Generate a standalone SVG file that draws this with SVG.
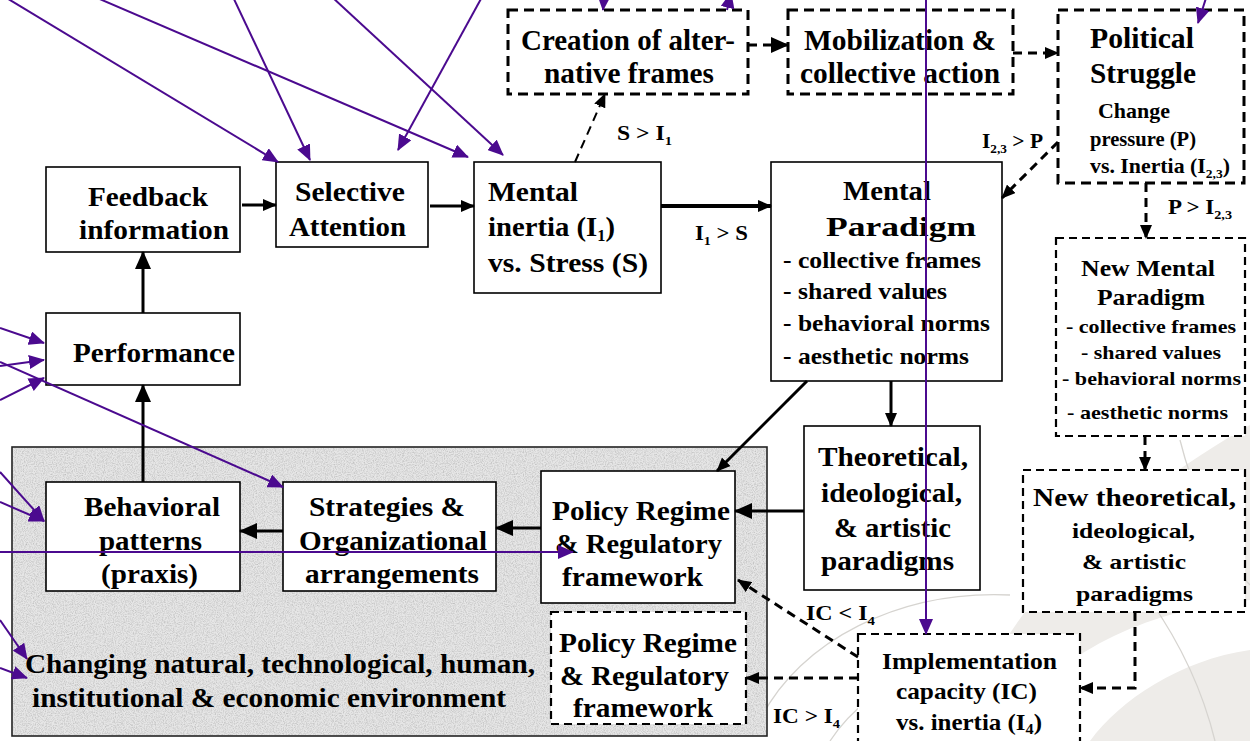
<svg xmlns="http://www.w3.org/2000/svg" width="1250" height="741" viewBox="0 0 1250 741">
<defs>
<style>
text{font-family:"Liberation Serif","Times New Roman",serif;font-weight:bold;fill:#000}
.box{fill:#fff;stroke:#000;stroke-width:1.6}
.dbox{fill:#fff;stroke:#000;stroke-width:3;stroke-dasharray:10 6}
.dboxt{fill:#fff;stroke:#000;stroke-width:2.2;stroke-dasharray:8 5}
.c{fill:none;stroke:#000;stroke-width:3}
.cd{fill:none;stroke:#000;stroke-width:3;stroke-dasharray:9 6}
.p{fill:none;stroke:#4b0a8f;stroke-width:2}
.deco{fill:none;stroke:#d6d4d0;stroke-width:1.3}
</style>
<marker id="ab" viewBox="0 0 14 12" refX="13" refY="6" markerWidth="14" markerHeight="12" markerUnits="userSpaceOnUse" orient="auto"><path d="M0,0 L14,6 L0,12 z" fill="#000"/></marker>
<marker id="abL" viewBox="0 0 18 16" refX="17" refY="8" markerWidth="18" markerHeight="16" markerUnits="userSpaceOnUse" orient="auto"><path d="M0,0 L18,8 L0,16 z" fill="#000"/></marker>
<marker id="ap" viewBox="0 0 16 14" refX="15" refY="7" markerWidth="16" markerHeight="14" markerUnits="userSpaceOnUse" orient="auto"><path d="M0,0 L16,7 L0,14 z" fill="#4b0a8f"/></marker>
<filter id="grain" x="0" y="0" width="100%" height="100%">
<feTurbulence type="fractalNoise" baseFrequency="0.9" numOctaves="3" seed="4" result="n"/>
<feColorMatrix in="n" type="matrix" values="0 0 0 0 0.5  0 0 0 0 0.5  0 0 0 0 0.5  1.8 0 0 0 -0.7"/>
<feComposite in2="SourceGraphic" operator="in"/>
</filter>
</defs>
<rect width="1250" height="741" fill="#fff"/>
<g id="background">
<path d="M960,741 C1000,600 1120,500 1250,425 L1250,741 Z" fill="#eeece9"/>
<path d="M1000,741 C1040,660 1140,610 1250,600 L1250,650 C1180,660 1120,700 1090,741 Z" fill="#fff"/>
<path class="deco" d="M760,720 C800,640 900,590 1010,595"/>
<path class="deco" d="M830,741 C870,680 960,640 1070,650"/>
<path class="deco" d="M1150,600 C1185,650 1205,700 1215,741"/>
<path class="deco" d="M1180,440 C1195,500 1225,560 1250,585"/>
</g>
<g id="environment">
<rect x="12" y="447" width="755" height="289" fill="#e6e6e6" stroke="#222" stroke-width="1.6"/>
<rect x="13" y="448" width="753" height="287" fill="#fff" filter="url(#grain)"/>
<text x="25" y="673" font-size="27" textLength="510" lengthAdjust="spacingAndGlyphs">Changing natural, technological, human,</text>
<text x="32" y="707" font-size="27" textLength="474" lengthAdjust="spacingAndGlyphs">institutional &amp; economic environment</text>
</g>
<g id="creation">
<rect class="dbox" x="508" y="10" width="240" height="84"/>
<text x="521" y="50" font-size="30" textLength="214" lengthAdjust="spacingAndGlyphs">Creation of alter-</text>
<text x="544" y="83" font-size="30" textLength="170" lengthAdjust="spacingAndGlyphs">native frames</text>
</g>
<g id="mobilization">
<rect class="dbox" x="788" y="10" width="225" height="84"/>
<text x="804" y="50" font-size="30" textLength="192" lengthAdjust="spacingAndGlyphs">Mobilization &amp;</text>
<text x="800" y="83" font-size="30" textLength="200" lengthAdjust="spacingAndGlyphs">collective action</text>
</g>
<g id="political">
<rect class="dbox" x="1058" y="10" width="186" height="173"/>
<text x="1090" y="48" font-size="30" textLength="104" lengthAdjust="spacingAndGlyphs">Political</text>
<text x="1090" y="83" font-size="30" textLength="106" lengthAdjust="spacingAndGlyphs">Struggle</text>
<text x="1098" y="118" font-size="21" textLength="72" lengthAdjust="spacingAndGlyphs">Change</text>
<text x="1090" y="146" font-size="21" textLength="106" lengthAdjust="spacingAndGlyphs">pressure (P)</text>
<text x="1090" y="173" font-size="21" textLength="140" lengthAdjust="spacingAndGlyphs">vs. Inertia (I<tspan font-size="13" dy="5">2,3</tspan><tspan dy="-5">)</tspan></text>
</g>
<g id="feedback">
<rect class="box" x="46" y="167" width="194" height="85"/>
<text x="88" y="206" font-size="28" textLength="120" lengthAdjust="spacingAndGlyphs">Feedback</text>
<text x="79" y="239" font-size="28" textLength="150" lengthAdjust="spacingAndGlyphs">information</text>
</g>
<g id="selective">
<rect class="box" x="276" y="162" width="152" height="85"/>
<text x="295" y="201" font-size="28" textLength="110" lengthAdjust="spacingAndGlyphs">Selective</text>
<text x="289" y="236" font-size="28" textLength="117" lengthAdjust="spacingAndGlyphs">Attention</text>
</g>
<g id="inertia">
<rect class="box" x="474" y="162" width="187" height="131"/>
<text x="488" y="201" font-size="28" textLength="90" lengthAdjust="spacingAndGlyphs">Mental</text>
<text x="488" y="236" font-size="28" textLength="127" lengthAdjust="spacingAndGlyphs">inertia (I<tspan font-size="16" dy="5">1</tspan><tspan dy="-5">)</tspan></text>
<text x="488" y="272" font-size="28" textLength="160" lengthAdjust="spacingAndGlyphs">vs. Stress (S)</text>
</g>
<g id="paradigm">
<rect class="box" x="771" y="162" width="231" height="219"/>
<text x="843" y="200" font-size="28" textLength="88" lengthAdjust="spacingAndGlyphs">Mental</text>
<text x="826" y="236" font-size="28" textLength="150" lengthAdjust="spacingAndGlyphs">Paradigm</text>
<text x="783" y="268" font-size="23" textLength="198" lengthAdjust="spacingAndGlyphs">- collective frames</text>
<text x="783" y="299" font-size="23" textLength="164" lengthAdjust="spacingAndGlyphs">- shared values</text>
<text x="783" y="331" font-size="23" textLength="207" lengthAdjust="spacingAndGlyphs">- behavioral norms</text>
<text x="783" y="364" font-size="23" textLength="186" lengthAdjust="spacingAndGlyphs">- aesthetic norms</text>
</g>
<g id="new-paradigm">
<rect class="dboxt" x="1056" y="238" width="189" height="198"/>
<text x="1081" y="276" font-size="23" textLength="134" lengthAdjust="spacingAndGlyphs">New Mental</text>
<text x="1097" y="305" font-size="23" textLength="108" lengthAdjust="spacingAndGlyphs">Paradigm</text>
<text x="1066" y="333" font-size="19" textLength="170" lengthAdjust="spacingAndGlyphs">- collective frames</text>
<text x="1081" y="359" font-size="19" textLength="140" lengthAdjust="spacingAndGlyphs">- shared values</text>
<text x="1062" y="385" font-size="19" textLength="179" lengthAdjust="spacingAndGlyphs">- behavioral norms</text>
<text x="1067" y="419" font-size="19" textLength="161" lengthAdjust="spacingAndGlyphs">- aesthetic norms</text>
</g>
<g id="performance">
<rect class="box" x="46" y="313" width="194" height="72"/>
<text x="73" y="362" font-size="28" textLength="162" lengthAdjust="spacingAndGlyphs">Performance</text>
</g>
<g id="theoretical">
<rect class="box" x="804" y="426" width="176" height="164"/>
<text x="818" y="466" font-size="28" textLength="150" lengthAdjust="spacingAndGlyphs">Theoretical,</text>
<text x="821" y="502" font-size="28" textLength="141" lengthAdjust="spacingAndGlyphs">ideological,</text>
<text x="834" y="537" font-size="28" textLength="117" lengthAdjust="spacingAndGlyphs">&amp; artistic</text>
<text x="821" y="570" font-size="28" textLength="133" lengthAdjust="spacingAndGlyphs">paradigms</text>
</g>
<g id="new-theoretical">
<rect class="dboxt" x="1023" y="470" width="222" height="142"/>
<text x="1033" y="506" font-size="25" textLength="203" lengthAdjust="spacingAndGlyphs">New theoretical,</text>
<text x="1072" y="538" font-size="22" textLength="123" lengthAdjust="spacingAndGlyphs">ideological,</text>
<text x="1082" y="569" font-size="22" textLength="104" lengthAdjust="spacingAndGlyphs">&amp; artistic</text>
<text x="1076" y="601" font-size="22" textLength="117" lengthAdjust="spacingAndGlyphs">paradigms</text>
</g>
<g id="behavioral">
<rect class="box" x="46" y="482" width="194" height="109"/>
<text x="84" y="516" font-size="28" textLength="136" lengthAdjust="spacingAndGlyphs">Behavioral</text>
<text x="99" y="550" font-size="28" textLength="103" lengthAdjust="spacingAndGlyphs">patterns</text>
<text x="101" y="583" font-size="28" textLength="97" lengthAdjust="spacingAndGlyphs">(praxis)</text>
</g>
<g id="strategies">
<rect class="box" x="283" y="482" width="213" height="109"/>
<text x="309" y="516" font-size="28" textLength="156" lengthAdjust="spacingAndGlyphs">Strategies &amp;</text>
<text x="299" y="550" font-size="28" textLength="188" lengthAdjust="spacingAndGlyphs">Organizational</text>
<text x="305" y="583" font-size="28" textLength="174" lengthAdjust="spacingAndGlyphs">arrangements</text>
</g>
<g id="policy">
<rect class="box" x="541" y="471" width="194" height="132"/>
<text x="552" y="520" font-size="28" textLength="178" lengthAdjust="spacingAndGlyphs">Policy Regime</text>
<text x="555" y="553" font-size="28" textLength="167" lengthAdjust="spacingAndGlyphs">&amp; Regulatory</text>
<text x="562" y="586" font-size="28" textLength="141" lengthAdjust="spacingAndGlyphs">framework</text>
</g>
<g id="policy-new">
<rect class="dboxt" x="551" y="612" width="195" height="112"/>
<text x="559" y="652" font-size="28" textLength="178" lengthAdjust="spacingAndGlyphs">Policy Regime</text>
<text x="560" y="685" font-size="28" textLength="169" lengthAdjust="spacingAndGlyphs">&amp; Regulatory</text>
<text x="573" y="717" font-size="28" textLength="140" lengthAdjust="spacingAndGlyphs">framework</text>
</g>
<g id="implementation">
<rect class="dboxt" x="858" y="634" width="222" height="120"/>
<text x="882" y="669" font-size="23" textLength="175" lengthAdjust="spacingAndGlyphs">Implementation</text>
<text x="896" y="699" font-size="23" textLength="141" lengthAdjust="spacingAndGlyphs">capacity (IC)</text>
<text x="896" y="730" font-size="23" textLength="146" lengthAdjust="spacingAndGlyphs">vs. inertia (I<tspan font-size="15" dy="4">4</tspan><tspan dy="-4">)</tspan></text>
</g>
<g id="connectors">
<path class="c" d="M242,205 L276,205" marker-end="url(#ab)"/>
<path class="c" d="M430,206 L474,206" marker-end="url(#ab)"/>
<path class="c" style="stroke-width:4" d="M661,206 L771,206" marker-end="url(#ab)"/>
<path class="c" d="M143,313 L143,252" marker-end="url(#abL)"/>
<path class="c" d="M143,482 L143,385" marker-end="url(#abL)"/>
<path class="c" d="M283,531 L240,531" marker-end="url(#abL)"/>
<path class="c" d="M541,528 L496,528" marker-end="url(#abL)"/>
<path class="c" d="M804,511 L735,511" marker-end="url(#abL)"/>
<path class="c" d="M891,381 L891,426" marker-end="url(#ab)"/>
<path class="c" d="M807,381 L717,471" marker-end="url(#ab)"/>
<path class="cd" style="stroke-width:2" d="M575,162 L605,94" marker-end="url(#ab)"/>
<path class="cd" d="M748,45 L788,45" marker-end="url(#abL)"/>
<path class="cd" d="M1013,53 L1058,53" marker-end="url(#ab)"/>
<path class="cd" d="M1058,142 L1002,198" marker-end="url(#ab)"/>
<path class="cd" d="M1146,183 L1146,238" marker-end="url(#ab)"/>
<path class="cd" d="M1145,436 L1145,470" marker-end="url(#ab)"/>
<path class="cd" d="M1135,612 L1135,688 L1080,688" marker-end="url(#ab)"/>
<path class="cd" d="M858,657 L738,580" marker-end="url(#ab)"/>
<path class="cd" d="M858,678 L746,678" marker-end="url(#ab)"/>
<text x="617" y="140" font-size="21" textLength="55" lengthAdjust="spacingAndGlyphs">S &gt; I<tspan font-size="13" dy="5">1</tspan></text>
<text x="982" y="148" font-size="21" textLength="61" lengthAdjust="spacingAndGlyphs">I<tspan font-size="13" dy="5">2,3</tspan><tspan dy="-5"> &gt; P</tspan></text>
<text x="1168" y="214" font-size="21" textLength="64" lengthAdjust="spacingAndGlyphs">P &gt; I<tspan font-size="13" dy="5">2,3</tspan></text>
<text x="695" y="240" font-size="21" textLength="53" lengthAdjust="spacingAndGlyphs">I<tspan font-size="13" dy="5">1</tspan><tspan dy="-5"> &gt; S</tspan></text>
<text x="806" y="620" font-size="21" textLength="69" lengthAdjust="spacingAndGlyphs">IC &lt; I<tspan font-size="13" dy="5">4</tspan></text>
<text x="773" y="723" font-size="21" textLength="67" lengthAdjust="spacingAndGlyphs">IC &gt; I<tspan font-size="13" dy="5">4</tspan></text>
<path class="p" d="M5,-3 L278,162" marker-end="url(#ap)"/>
<path class="p" d="M233,-3 L310,160" marker-end="url(#ap)"/>
<path class="p" d="M95,-3 L468,157" marker-end="url(#ap)"/>
<path class="p" d="M332,-3 L503,155" marker-end="url(#ap)"/>
<path class="p" d="M482,-3 L398,150" marker-end="url(#ap)"/>
<path class="p" d="M606,-30 L603,10" marker-end="url(#ap)"/>
<path class="p" d="M727,10 L731,-7" marker-end="url(#ap)"/>
<path class="p" d="M926,-5 L926,634" marker-end="url(#ap)"/>
<path class="p" d="M1207,-5 L1198,23" marker-end="url(#ap)"/>
<path class="p" d="M0,328 L44,343" marker-end="url(#ap)"/>
<path class="p" d="M0,366 L44,360" marker-end="url(#ap)"/>
<path class="p" d="M0,400 L44,378" marker-end="url(#ap)"/>
<path class="p" d="M0,362 L283,487" marker-end="url(#ap)"/>
<path class="p" d="M0,472 L44,521" marker-end="url(#ap)"/>
<path class="p" d="M0,502 L44,521" marker-end="url(#ap)"/>
<path class="p" d="M0,552 L573,552" marker-end="url(#ap)"/>
<path class="p" d="M0,620 L27,659" marker-end="url(#ap)"/>
<path class="p" d="M0,668 L27,678" marker-end="url(#ap)"/>
</g>
</svg>
